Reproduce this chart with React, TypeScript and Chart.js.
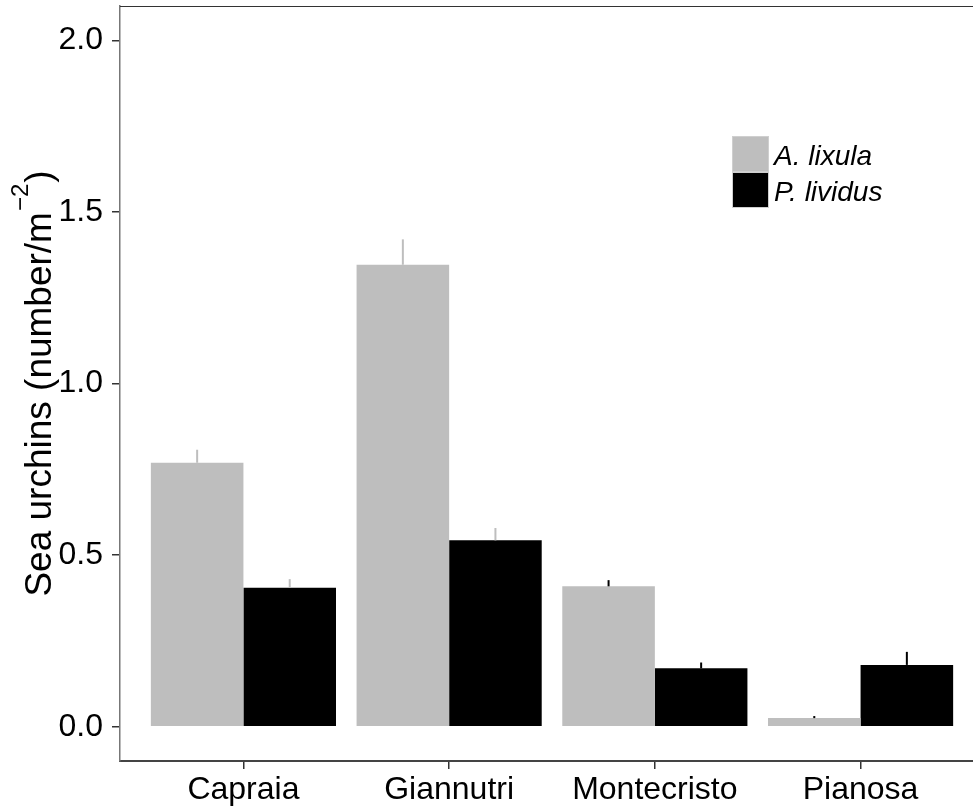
import React, { useEffect, useRef } from "react";
import { Chart, registerables } from "chart.js";

Chart.register(...registerables);

// ---- data ----
const sites = ["Capraia", "Giannutri", "Montecristo", "Pianosa"];
const sitePositions = [1, 2, 3, 4];
const seriesNames = ["A. lixula", "P. lividus"];
const lixulaMean = [0.769, 1.346, 0.409, 0.025];
const lixulaSE = [0.038, 0.074, 0.018, 0.006];
const lividusMean = [0.405, 0.543, 0.17, 0.18];
const lividusSE = [0.025, 0.036, 0.017, 0.038];
const yTicks = [0, 0.5, 1.0, 1.5, 2.0];
const errorBarColors = ["#bebebe", "#bebebe", "#000000", "#000000"];
const seriesColors = ["#bebebe", "#000000"];

const FAM = '"Liberation Sans", Arial, Helvetica, sans-serif';

const decorPlugin = {
  id: "decor",
  afterDatasetsDraw(chart: any) {
    const ctx = chart.ctx;
    const yScale = chart.scales.y;
    chart.data.datasets.forEach((ds: any, di: number) => {
      const meta = chart.getDatasetMeta(di);
      meta.data.forEach((bar: any, i: number) => {
        const top = yScale.getPixelForValue(ds.means[i] + ds.errors[i]);
        ctx.save();
        ctx.strokeStyle = errorBarColors[i];
        ctx.lineWidth = 2;
        ctx.beginPath();
        ctx.moveTo(bar.x, bar.y);
        ctx.lineTo(bar.x, top);
        ctx.stroke();
        ctx.restore();
      });
    });
  },
  afterDraw(chart: any) {
    const ctx = chart.ctx;
    const area = chart.chartArea;
    ctx.save();
    // panel border (top / right)
    ctx.strokeStyle = "#333333";
    ctx.lineWidth = 1;
    ctx.beginPath();
    ctx.moveTo(area.left, area.top + 0.5);
    ctx.lineTo(area.right, area.top + 0.5);
    ctx.stroke();
    ctx.beginPath();
    ctx.moveTo(area.right - 0.5, area.top);
    ctx.lineTo(area.right - 0.5, area.bottom);
    ctx.stroke();

    // legend
    const kx = 732;
    const ky = 136;
    const kw = 37;
    const kh = 36;
    seriesNames.forEach((name, i) => {
      ctx.fillStyle = seriesColors[i];
      ctx.fillRect(kx, ky + i * kh, kw, kh);
      ctx.strokeStyle = "#cfcfcf";
      ctx.lineWidth = 1;
      ctx.strokeRect(kx + 0.5, ky + i * kh + 0.5, kw - 1, kh - 1);
      ctx.fillStyle = "#000000";
      ctx.font = `italic 28px ${FAM}`;
      ctx.textAlign = "left";
      ctx.textBaseline = "alphabetic";
      ctx.fillText(name, kx + kw + 5, ky + i * kh + 29);
    });

    // y-axis title
    const cy = (area.top + area.bottom) / 2;
    ctx.translate(51, cy);
    ctx.rotate(-Math.PI / 2);
    ctx.fillStyle = "#000000";
    ctx.textAlign = "left";
    ctx.textBaseline = "alphabetic";
    const main = "Sea urchins (number/m";
    const sup = "\u22122";
    const close = ")";
    ctx.font = `37px ${FAM}`;
    const wMain = ctx.measureText(main).width;
    const wClose = ctx.measureText(close).width;
    ctx.font = `24px ${FAM}`;
    const wSup = ctx.measureText(sup).width;
    const total = wMain + wSup + wClose + 2;
    const x0 = -total / 2;
    ctx.font = `37px ${FAM}`;
    ctx.fillText(main, x0, 0);
    ctx.fillText(close, x0 + wMain + wSup + 2, 0);
    ctx.font = `24px ${FAM}`;
    ctx.fillText(sup, x0 + wMain + 1, -23);
    ctx.restore();
  },
};

export default function App() {
  const canvasRef = useRef<HTMLCanvasElement | null>(null);

  useEffect(() => {
    if (!canvasRef.current) return;
    const gridCommon = {
      display: true,
      drawOnChartArea: false,
      drawTicks: true,
      tickLength: 8,
      color: "#333333",
      lineWidth: 1.5,
      offset: false,
    };
    const chart = new Chart(canvasRef.current, {
      type: "bar",
      data: {
        datasets: [
          {
            label: seriesNames[0],
            data: sitePositions.map((x, i) => ({ x, y: lixulaMean[i] })),
            backgroundColor: seriesColors[0],
            borderWidth: 0,
            means: lixulaMean,
            errors: lixulaSE,
          } as any,
          {
            label: seriesNames[1],
            data: sitePositions.map((x, i) => ({ x, y: lividusMean[i] })),
            backgroundColor: seriesColors[1],
            borderWidth: 0,
            means: lividusMean,
            errors: lividusSE,
          } as any,
        ],
      },
      options: {
        animation: false,
        responsive: false,
        devicePixelRatio: 1,
        layout: { padding: { top: 6, right: 6, left: 0, bottom: 0 } },
        datasets: { bar: { categoryPercentage: 0.9, barPercentage: 1.0 } },
        plugins: {
          legend: { display: false },
          tooltip: { enabled: false },
        },
        scales: {
          x: {
            type: "linear",
            min: 0.4,
            max: 4.6,
            offset: false,
            afterBuildTicks: (s: any) => {
              s.ticks = sitePositions.map((v) => ({ value: v }));
            },
            afterFit: (s: any) => {
              s.height = 51;
              s.paddingLeft = 0;
              s.paddingRight = 0;
              s.paddingTop = 0;
              s.paddingBottom = 0;
            },
            grid: gridCommon,
            border: { display: true, color: "#444444", width: 2 },
            ticks: {
              font: { family: FAM, size: 32 },
              color: "#000000",
              padding: 2,
              maxRotation: 0,
              autoSkip: false,
              callback: (v: any) => {
                const idx = sitePositions.indexOf(Number(v));
                return idx >= 0 ? sites[idx] : "";
              },
            },
          },
          y: {
            type: "linear",
            min: -0.1,
            max: 2.1,
            afterBuildTicks: (s: any) => {
              s.ticks = yTicks.map((v) => ({ value: v }));
            },
            afterFit: (s: any) => {
              s.width = 120;
              s.paddingLeft = 0;
              s.paddingRight = 0;
              s.paddingTop = 0;
              s.paddingBottom = 0;
            },
            grid: gridCommon,
            border: { display: true, color: "#777777", width: 1.5 },
            ticks: {
              font: { family: FAM, size: 32 },
              color: "#000000",
              padding: 9,
              callback: (v: any) => Number(v).toFixed(1),
            },
          },
        },
      } as any,
      plugins: [decorPlugin],
    });
    return () => chart.destroy();
  }, []);

  return (
    <div
      style={{
        position: "fixed",
        left: 0,
        top: 0,
        width: 973,
        height: 812,
        overflow: "hidden",
        background: "#ffffff",
      }}
    >
      <canvas
        ref={canvasRef}
        width={990}
        height={812}
        style={{ display: "block", width: 990, height: 812 }}
      />
    </div>
  );
}
